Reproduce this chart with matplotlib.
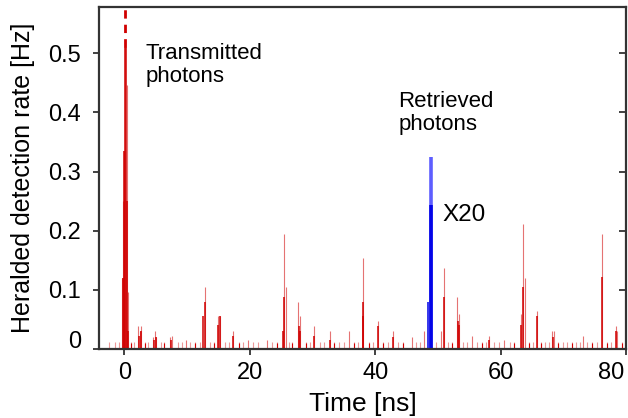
import matplotlib.pyplot as plt
import matplotlib.transforms as mtransforms

plt.rcParams['font.family'] = ['Liberation Sans', 'DejaVu Sans']

# light (semi-transparent) red bins: time [ns], rate [Hz]
light_t = [-0.32, -0.16, 0.0, 0.4, 0.56,
           2.2, 2.5, 2.7, 4.5, 4.9, 5.1, 7.3, 7.6, 9.8,
           12.8, 15.0, 15.2, 17.4, 19.7, 22.7,
           25.5, 25.7, 27.7, 28.0, 30.3, 32.8, 35.8,
           38.1, 40.5, 42.9, 45.8, 47.7,
           50.5, 50.9, 53.1, 53.3, 55.5, 58.1, 60.6,
           63.3, 63.5, 63.8, 65.8, 68.2, 68.5, 73.1,
           76.2, 78.4, 78.6]
light_h = [0.12, 0.25, 0.335, 0.447, 0.097,
           0.039, 0.03, 0.039, 0.02, 0.03, 0.02, 0.02, 0.022, 0.015,
           0.105, 0.056, 0.056, 0.03, 0.015, 0.015,
           0.195, 0.105, 0.08, 0.056, 0.039, 0.03, 0.03,
           0.154, 0.047, 0.03, 0.02, 0.03,
           0.03, 0.137, 0.088, 0.06, 0.022, 0.022, 0.015,
           0.06, 0.212, 0.12, 0.065, 0.03, 0.03, 0.022,
           0.195, 0.039, 0.03]

# solid red bins
dark_t = [-0.16, 0.0, 0.08, 0.24, 0.4, 0.56,
          2.4, 2.6, 4.8, 5.0, 7.4,
          12.6, 12.8, 15.0, 15.2, 17.4,
          25.3, 25.5, 27.8, 28.0, 30.3, 32.8,
          38.0, 38.1, 40.5, 42.9,
          50.9, 53.2, 53.4, 58.1,
          63.3, 63.5, 65.8, 68.3, 76.2, 78.4]
dark_h = [0.12, 0.334, 0.51, 0.51, 0.25, 0.03,
          0.022, 0.03, 0.015, 0.02, 0.015,
          0.056, 0.08, 0.04, 0.056, 0.022,
          0.03, 0.088, 0.039, 0.03, 0.022, 0.015,
          0.056, 0.08, 0.039, 0.02,
          0.088, 0.047, 0.04, 0.015,
          0.04, 0.105, 0.056, 0.02, 0.122, 0.03]

# background counts near zero
bg_light_t = [-2.5, -1.5, -0.8, 1.0, 1.5, 3.3, 3.8, 5.8, 6.4, 8.5, 9.2, 10.5,
              11.3, 12.0, 13.6, 14.3, 16.0, 16.7, 18.3, 19.0, 20.5, 21.3, 23.5,
              24.3, 26.2, 26.8, 29.0, 29.6, 31.2, 31.8, 33.5, 34.3, 35.0, 36.6,
              37.2, 39.0, 39.6, 41.3, 42.1, 43.7, 44.4, 46.5, 47.2, 49.7, 51.6,
              52.3, 54.0, 54.7, 56.3, 57.0, 57.6, 59.0, 59.8, 61.5, 62.2, 64.5,
              65.2, 66.5, 67.1, 67.7, 69.2, 70.0, 70.6, 71.3, 72.0, 72.6, 73.8,
              74.5, 75.3, 77.0, 77.6, 79.3]
bg_light_h = [0.012] * len(bg_light_t)
bg_dark_t = [1.0, 3.3, 6.4, 11.3, 14.3, 18.3, 24.3, 26.8, 29.0, 33.5, 36.6,
             39.0, 41.3, 44.4, 52.3, 57.0, 62.2, 64.5, 66.5, 69.2, 71.3, 74.5,
             77.0, 79.3]
bg_dark_h = [0.01] * len(bg_dark_t)

# retrieved photons (x20)
blue_t = [48.45, 48.7, 48.85, 49.0]
blue_dark_h = [0.08, 0.244, 0.244, 0.244]
blue_light_h = [0.0, 0.325, 0.325, 0.325]

red = '#d00000'
fig = plt.figure(figsize=(6.28, 4.18), dpi=100)
ax = fig.add_axes([0.158, 0.165, 0.839, 0.818])

lw = 0.8
ax.vlines(bg_light_t, 0, bg_light_h, color=red, alpha=0.4, lw=lw)
ax.vlines(bg_dark_t, 0, bg_dark_h, color=red, lw=lw)
ax.vlines(light_t, 0, light_h, color=red, alpha=0.55, lw=lw)
ax.vlines(dark_t, 0, dark_h, color=red, lw=lw + 0.3)
ax.vlines(blue_t, 0, blue_light_h, color='#5555ff', lw=lw + 0.3)
ax.vlines(blue_t, 0, blue_dark_h, color='#0000e6', lw=lw + 0.3)

# peak goes off scale
ax.plot([0.16, 0.16], [0.51, 0.6], color=red, lw=2, ls=(0, (3, 2.2)),
        solid_capstyle='butt')

ax.text(3.4, 0.518, "Transmitted\nphotons", fontsize=16, va='top', ha='left',
        linespacing=1.15)
ax.text(43.7, 0.437, "Retrieved\nphotons", fontsize=16, va='top', ha='left',
        linespacing=1.15)
ax.text(50.7, 0.227, "X20", fontsize=17.5, va='center', ha='left')

ax.set_xlim(-4.0, 79.9)
ax.set_ylim(0, 0.578)
ax.set_xticks([0, 20, 40, 60, 80])
ax.set_yticks([0, 0.1, 0.2, 0.3, 0.4, 0.5])
ax.set_yticklabels(['0', '0.1', '0.2', '0.3', '0.4', '0.5'])
ax.set_xlabel("Time [ns]", fontsize=19, labelpad=6)
ax.set_ylabel("Heralded detection rate [Hz]", fontsize=18, labelpad=10)

for s in ax.spines.values():
    s.set_linewidth(1.6)
    s.set_color('#333333')
ax.tick_params(axis='x', direction='out', length=4, width=1.3, labelsize=17,
               pad=5, color='#333333')
ax.tick_params(axis='y', direction='out', length=4, width=1.3, labelsize=17,
               pad=9, color='#333333')

ax2 = ax.twinx()
ax2.set_ylim(ax.get_ylim())
ax2.set_yticks([0.1, 0.2, 0.3, 0.4, 0.5])
ax2.tick_params(axis='y', direction='in', length=5, width=1.3, labelright=False,
                color='#333333')
for s in ax2.spines.values():
    s.set_visible(False)

# the "0" label sits a little above its tick
lab0 = ax.yaxis.get_major_ticks()[0].label1
lab0.set_transform(lab0.get_transform() +
                   mtransforms.ScaledTranslation(0, 7 / 72, fig.dpi_scale_trans))
# last x label kept inside the figure
lab80 = ax.xaxis.get_major_ticks()[-1].label1
lab80.set_horizontalalignment('right')
lab80.set_transform(lab80.get_transform() +
                    mtransforms.ScaledTranslation(-1.5 / 72, 0, fig.dpi_scale_trans))

fig.savefig("out.png", dpi=100)
